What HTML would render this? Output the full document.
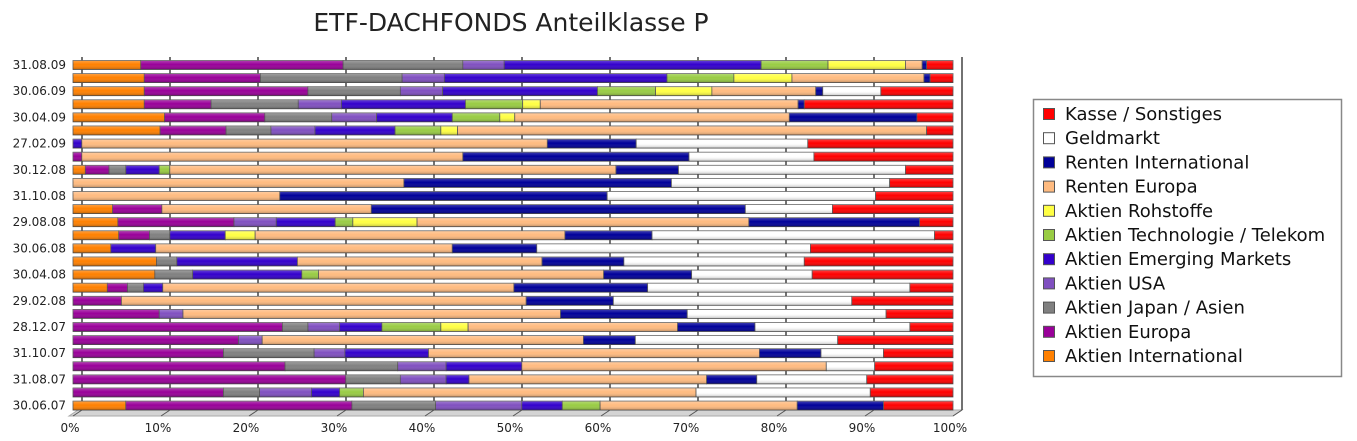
<!DOCTYPE html>
<html><head><meta charset="utf-8"><style>
body{margin:0;background:#fff;width:1357px;height:441px;overflow:hidden;font-family:"DejaVu Sans","Liberation Sans",sans-serif}
svg{display:block}
</style></head><body>
<svg id="chart" width="1357" height="441">
<defs>
<linearGradient id="shade" x1="0" y1="0" x2="0" y2="1">
<stop offset="0" stop-color="#fff" stop-opacity="0.25"/><stop offset="0.45" stop-color="#fff" stop-opacity="0"/><stop offset="1" stop-color="#000" stop-opacity="0.25"/>
</linearGradient>
</defs>
<text x="511" y="31" text-anchor="middle" font-size="25" fill="#222">ETF-DACHFONDS Anteilklasse P</text>
<g id="grid"></g><g id="bars"></g><g id="ylabels"></g><g id="xlabels"></g>
<g>
<rect x="1033.5" y="99.5" width="308" height="277" fill="#fff" stroke="#888" stroke-width="1.5"/>
<g id="legend"></g>
</g>
</svg>
<script>
const dates=["31.08.09","31.07.09","30.06.09","29.05.09","30.04.09","31.03.09","27.02.09","30.01.09","30.12.08","28.11.08","31.10.08","30.09.08","29.08.08","31.07.08","30.06.08","30.05.08","30.04.08","31.03.08","29.02.08","31.01.08","28.12.07","30.11.07","31.10.07","28.09.07","31.08.07","31.07.07","30.06.07"];
const seriesNames=["Aktien International","Aktien Europa","Aktien Japan / Asien","Aktien USA","Aktien Emerging Markets","Aktien Technologie / Telekom","Aktien Rohstoffe","Renten Europa","Renten International","Geldmarkt","Kasse / Sonstiges"];
const colors=["#ff8000","#990099","#808080","#8050c0","#3300cc","#99cc44","#ffff44","#ffbb80","#000099","#ffffff","#ff0000"];
const aktienInternational=[7.7,8.1,8.1,8.1,10.4,9.9,0,0,1.4,0,0,4.5,5.1,5.2,4.3,9.5,9.3,3.9,0,0,0,0,0,0,0,0,6.0];
const aktienEuropa=[23.0,13.2,18.6,7.6,11.4,7.5,0,1.0,2.7,0,0,5.6,13.2,3.5,0,0,0,2.3,5.5,9.8,23.8,18.8,17.1,24.1,31.0,17.1,25.7];
const aktienJapan=[13.6,16.1,10.5,9.9,7.6,5.1,0,0,1.9,0,0,0,0,2.3,0,2.3,4.3,1.8,0,0,2.9,0,10.3,12.8,6.2,4.1,9.5];
const aktienUSA=[4.7,4.8,4.8,4.9,5.1,5.0,0,0,0,0,0,0,4.8,0,0,0,0,0,0,2.7,3.6,2.7,3.5,5.5,5.2,5.9,9.8];
const aktienEM=[29.2,25.3,17.6,14.1,8.6,9.1,1.0,0,3.8,0,0,0,6.7,6.3,5.1,13.7,12.4,2.2,0,0,4.8,0,9.5,8.6,2.6,3.2,4.6];
const aktienTech=[7.6,7.6,6.6,6.5,5.4,5.2,0,0,1.2,0,0,0,2.0,0,0,0,1.9,0,0,0,6.7,0,0,0,0,2.7,4.3];
const aktienRohstoffe=[8.8,6.6,6.4,2.0,1.7,1.9,0,0,0,0,0,0,7.3,3.4,0,0,0,0,0,0,3.1,0,0,0,0,0,0];
const rentenEuropa=[1.9,15.0,11.8,29.3,31.2,53.3,52.9,43.3,50.7,37.6,23.5,23.8,37.7,35.2,33.7,27.8,32.4,39.9,46.0,42.9,23.8,36.5,37.6,34.6,27.0,37.8,22.4];
const rentenInternational=[0.5,0.7,0.8,0.7,14.5,0,10.1,25.7,7.1,30.4,37.2,42.5,19.4,9.9,9.6,9.3,10.0,15.2,9.9,14.4,8.8,5.9,7.0,0,5.7,0,9.8];
const geldmarkt=[0,0,6.6,0,0,0,19.5,14.2,25.8,24.8,30.5,9.9,0,32.1,31.1,20.5,13.7,29.8,27.1,22.6,17.6,23.0,7.1,5.5,12.5,19.8,0];
const kasse=[3.0,2.6,8.2,16.9,4.1,3.0,16.5,15.8,5.4,7.2,8.8,13.7,3.8,2.1,16.2,16.9,16.0,4.9,11.5,7.6,4.9,13.1,7.9,8.9,9.8,9.4,7.9];
const xTicks=["0%","10%","20%","30%","40%","50%","60%","70%","80%","90%","100%"];
const series=[aktienInternational,aktienEuropa,aktienJapan,aktienUSA,aktienEM,aktienTech,aktienRohstoffe,rentenEuropa,rentenInternational,geldmarkt,kasse];

const NS="http://www.w3.org/2000/svg";
const X0=73,X1=953,Y0=65,DY=13.1,BH=9,OFF=9;
function xs(p){return X0+(X1-X0)*p/100;}
function ys(i){return Y0+i*DY;}
function mk(tag,attrs,parent){const e=document.createElementNS(NS,tag);for(const k in attrs)e.setAttribute(k,attrs[k]);parent.appendChild(e);return e;}
const grid=document.getElementById('grid'),bars=document.getElementById('bars'),yl=document.getElementById('ylabels'),xl=document.getElementById('xlabels');
const floor=mk('polygon',{points:`${X0-4},416 ${X1},416 ${X1+OFF},410 ${X0+OFF-4},410`,fill:'#d4d4d4',stroke:'#aaa'},grid);


xTicks.forEach((t,k)=>{
  const p=k*10, x=xs(p);
  const gl=mk('line',{x1:x+OFF,y1:57,x2:x+OFF,y2:410,stroke:'#444','stroke-width':1.5},grid);
  
  
  mk('line',{x1:x,y1:416,x2:x+OFF,y2:410,stroke:'#555'},grid);
  const tx=mk('text',{x:x-3,y:432,'text-anchor':'middle','font-size':12,fill:'#222'},xl);
  tx.textContent=t;
  
  
});
dates.forEach((d,i)=>{
  const y=ys(i);
  if(i%2===0){
    const t=mk('text',{x:66,y:y+4,'text-anchor':'end','font-size':12,fill:'#222'},yl);
    t.textContent=d;
    
    
  }
  let cum=0;
  series.forEach((s,k)=>{
    const v=s[i]; if(!v) return;
    const x=xs(cum), w=xs(cum+v)-x;
    const r=mk('rect',{x:x,y:y-BH/2,width:w,height:BH,fill:colors[k],stroke:'#555','stroke-width':0.8},bars);
    
    
    mk('rect',{x:x,y:y-BH/2,width:w,height:BH,fill:'url(#shade)'},bars);
    cum+=v;
  });
});
const lg=document.getElementById('legend');
seriesNames.slice().reverse().forEach((n,j)=>{
  const k=seriesNames.length-1-j, y=114+j*24.2;
  const sw=mk('rect',{x:1043.5,y:y-5.5,width:11,height:11,fill:colors[k],stroke:'#555'},lg);
  
  
  const t=mk('text',{x:1065,y:y+6,'font-size':18,fill:'#111'},lg);
  t.textContent=n;
  
  
});
</script>
</body></html>
